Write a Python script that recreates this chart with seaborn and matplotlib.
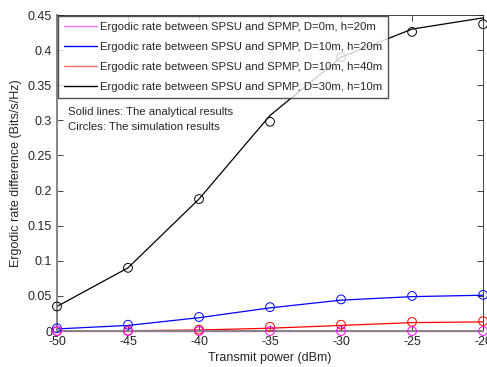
import numpy as np
import pandas as pd
import matplotlib
matplotlib.use('Agg')
import matplotlib.pyplot as plt
import seaborn as sns

# transmit power (dBm)
power = [-50, -45, -40, -35, -30, -25, -20]

labels = [
    'Ergodic rate between SPSU and SPMP, D=0m, h=20m',
    'Ergodic rate between SPSU and SPMP, D=10m, h=20m',
    'Ergodic rate between SPSU and SPMP, D=10m, h=40m',
    'Ergodic rate between SPSU and SPMP, D=30m, h=10m',
]
colors = ['#ff00ff', '#0000ff', '#ff0000', '#000000']
legend_colors = ['#ff70ff', '#0000ff', '#ff6a6a', '#000000']

# analytical results (lines)
ana_d0_h20 = [0.0, 0.0, 0.0, 0.0, 0.0, 0.0, 0.0]
ana_d10_h20 = [0.003, 0.008, 0.019, 0.033, 0.044, 0.049, 0.051]
ana_d10_h40 = [0.0, 0.0005, 0.0015, 0.004, 0.008, 0.012, 0.013]
ana_d30_h10 = [0.035, 0.090, 0.188, 0.307, 0.390, 0.430, 0.446]

# simulation results (circles)
sim_d0_h20 = [0.0, 0.0, 0.0, 0.0, 0.0, 0.0, 0.0]
sim_d10_h20 = [0.004, 0.009, 0.020, 0.034, 0.045, 0.050, 0.0515]
sim_d10_h40 = [0.0, 0.0005, 0.002, 0.006, 0.009, 0.013, 0.014]
sim_d30_h10 = [0.035, 0.090, 0.188, 0.298, 0.39, 0.426, 0.437]

ana = [ana_d0_h20, ana_d10_h20, ana_d10_h40, ana_d30_h10]
sim = [sim_d0_h20, sim_d10_h20, sim_d10_h40, sim_d30_h10]

sns.set_style('white')
plt.rcParams['font.family'] = ['Liberation Sans', 'DejaVu Sans']

fig = plt.figure(figsize=(4.87, 3.67), dpi=100)
ax = fig.add_axes([0.117, 0.098, 0.875, 0.861])

# draw in reverse so magenta sits on top
for i in [3, 2, 1, 0]:
    sns.lineplot(x=power, y=ana[i], ax=ax, color=colors[i], linewidth=0.9,
                 clip_on=False, zorder=2)
    ax.scatter(power, sim[i], s=40, marker='o', facecolors='none',
               edgecolors=colors[i], linewidths=0.7, clip_on=False, zorder=3)

handles = [plt.Line2D([], [], color=c, linewidth=1.0) for c in legend_colors]
leg = ax.legend(handles, labels, loc='upper left', fontsize=8.2,
                frameon=True, fancybox=False, borderaxespad=0.1,
                handlelength=2.9, handletextpad=0.3, borderpad=0.5,
                labelspacing=0.88)
leg.get_frame().set_edgecolor('#262626')
leg.get_frame().set_linewidth(1.0)
leg.set_zorder(5)

ax.text(0.025, 0.685, 'Solid lines: The analytical results', transform=ax.transAxes,
        fontsize=8.2, color='#262626')
ax.text(0.025, 0.635, 'Circles: The simulation results', transform=ax.transAxes,
        fontsize=8.2, color='#262626')

ax.set_xlim(-50, -20)
ax.set_ylim(0, 0.45)
ax.set_xticks(power)
ax.set_xticklabels([str(p) for p in power])
yt = np.arange(0, 0.451, 0.05)
ax.set_yticks(yt)
ax.set_yticklabels(['0'] + ['%g' % round(v, 2) for v in yt[1:]])
ax.set_xlabel('Transmit power (dBm)', fontsize=9, color='#262626', labelpad=3)
ax.set_ylabel('Ergodic rate difference (Bits/s/Hz)', fontsize=9, color='#262626', labelpad=4)
ax.tick_params(direction='in', length=4, width=0.6, labelsize=9, colors='#262626',
               top=True, right=True, bottom=True, left=True, pad=3.5)
for name, s in ax.spines.items():
    s.set_visible(True)
    if name in ('left', 'bottom'):
        s.set_color('#858585')
        s.set_linewidth(1.4)
    else:
        s.set_color('#262626')
        s.set_linewidth(0.6)

fig.savefig('out.png', dpi=100)
